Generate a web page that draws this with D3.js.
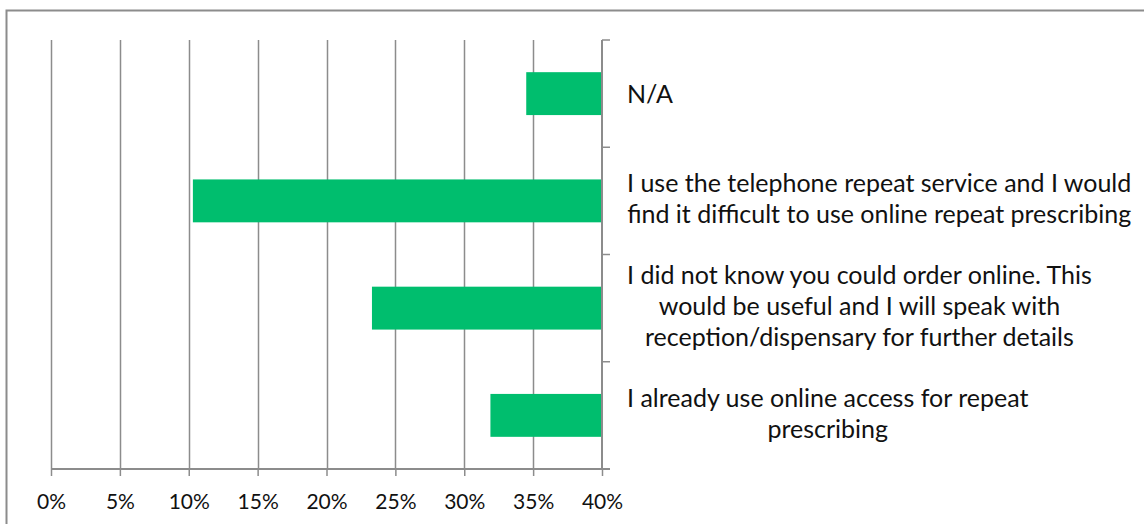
<!DOCTYPE html>
<html>
<head>
<meta charset="utf-8">
<script src="https://cdn.jsdelivr.net/npm/d3@7/dist/d3.min.js"></script>
<style>
  html, body { margin: 0; padding: 0; background: #ffffff; }
  svg { display: block; }
  text { font-family: Lato, "Open Sans", sans-serif; fill: #111111; }
</style>
</head>
<body>
<svg id="chart" width="1144" height="524"></svg>
<script>
// Survey responses about online repeat prescribing (share of respondents)
const categoryLines = [
  ["N/A"],
  ["I use the telephone repeat service and I would", "find it difficult to use online repeat prescribing"],
  ["I did not know you could order online. This", "would be useful and I will speak with", "reception/dispensary for further details"],
  ["I already use online access for repeat", "prescribing"]
];
const shares = [0.345, 0.103, 0.233, 0.319];
const tickValues = [0, 0.05, 0.10, 0.15, 0.20, 0.25, 0.30, 0.35, 0.40];
const axisMax = 0.40;

const svg = d3.select("#chart");
const W = 1144, H = 524;
const plot = { left: 51, right: 602, top: 40, bottom: 469 };
const gridColor = "#8c8c8c";
const barColor = "#00be6e";

// outer chart frame
svg.append("rect")
  .attr("x", 6.5).attr("y", 10.5)
  .attr("width", W + 10).attr("height", H + 10)
  .attr("fill", "none").attr("stroke", gridColor).attr("stroke-width", 2);

const x = d3.scaleLinear().domain([0, axisMax]).range([plot.left, plot.right]);
const y = d3.scaleBand()
  .domain(d3.range(categoryLines.length))
  .range([plot.top, plot.bottom])
  .paddingInner(0.6).paddingOuter(0.3);

// vertical gridlines
svg.append("g").selectAll("line")
  .data(tickValues.filter(t => t < axisMax))
  .join("line")
  .attr("x1", d => Math.round(x(d)) + 0.5).attr("x2", d => Math.round(x(d)) + 0.5)
  .attr("y1", plot.top).attr("y2", plot.bottom)
  .attr("stroke", gridColor).attr("stroke-width", 1.5);

// bars grow leftwards from the axis placed at the maximum value
svg.append("g").selectAll("rect")
  .data(shares)
  .join("rect")
  .attr("x", d => x(d))
  .attr("y", (d, i) => y(i))
  .attr("width", d => x(axisMax) - x(d))
  .attr("height", y.bandwidth())
  .attr("fill", barColor);

// bottom value axis
const xAxis = d3.axisBottom(x)
  .tickValues(tickValues)
  .tickFormat(d3.format(".0%"))
  .tickSize(7)
  .tickSizeOuter(0)
  .tickPadding(18);
const gx = svg.append("g")
  .attr("transform", `translate(0,${plot.bottom})`)
  .call(xAxis);
gx.select(".domain").remove();
gx.append("line")
  .attr("x1", x(0)).attr("x2", x(axisMax) + 8)
  .attr("y1", 0).attr("y2", 0)
  .attr("stroke", gridColor).attr("stroke-width", 2);
gx.selectAll(".tick line").attr("stroke", gridColor).attr("stroke-width", 1.5);
gx.selectAll(".tick text")
  .style("font-family", "Lato, sans-serif")
  .attr("font-size", 21)
  .attr("fill", "#111111");

// right category axis with ticks between categories
const gy = svg.append("g");
gy.append("line")
  .attr("x1", plot.right).attr("x2", plot.right)
  .attr("y1", plot.top).attr("y2", plot.bottom)
  .attr("stroke", gridColor).attr("stroke-width", 2);
const step = y.step();
const boundaries = d3.range(categoryLines.length + 1).map(i => plot.top + i * step);
gy.selectAll("line.tk")
  .data(boundaries)
  .join("line")
  .attr("class", "tk")
  .attr("x1", plot.right).attr("x2", plot.right + 8)
  .attr("y1", d => d).attr("y2", d => d)
  .attr("stroke", gridColor).attr("stroke-width", 1.5);

// category labels: each block starts beside the axis, its lines centred within the block
const labelLeft = 627;
const fontSize = 25;
const lineGap = 31;
const capHalf = fontSize * 0.36;
categoryLines.forEach((lines, i) => {
  const g = svg.append("g");
  const cy = plot.top + (i + 0.5) * step - (lines.length > 1 ? 2 : 0);
  const texts = g.selectAll("text")
    .data(lines)
    .join("text")
    .attr("font-size", fontSize)
    .attr("y", (d, k) => cy + capHalf + (k - (lines.length - 1) / 2) * lineGap)
    .attr("text-anchor", "middle")
    .text(d => d);
  const widest = d3.max(texts.nodes(), n => n.getComputedTextLength());
  texts.attr("x", labelLeft + widest / 2);
});
</script>
</body>
</html>
